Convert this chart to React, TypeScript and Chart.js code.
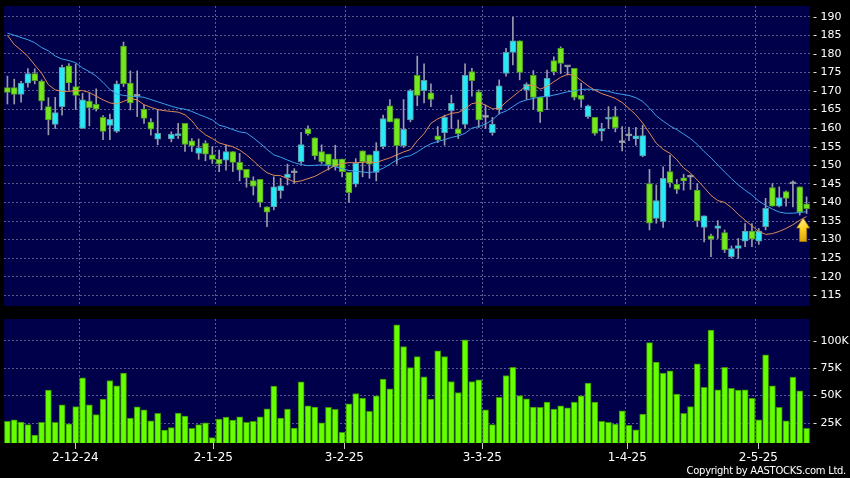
import React, { useEffect, useRef } from 'react';
import { Chart, registerables } from 'chart.js';
Chart.register(...registerables);

// ---------- data ----------
const OPEN = [170.9,170.9,169.1,172.1,174.7,172.7,165.8,161.0,165.8,176.8,
171.2,159.9,167.3,166.4,162.9,160.7,159.1,182.1,172.1,168.6,
165.1,161.6,157.0,null,157.1,158.0,161.3,156.6,153.2,155.9,
152.8,151.6,151.4,153.7,150.8,148.9,145.9,146.2,138.8,138.8,
143.2,146.7,148.0,151.0,159.8,157.4,153.7,153.0,151.7,151.7,
148.1,144.9,153.9,152.8,148.1,155.0,166.0,162.6,155.3,162.2,
174.2,170.1,169.5,157.9,158.8,164.7,159.8,161.0,175.2,169.8,
162.9,158.8,165.0,174.7,180.4,183.5,170.3,174.2,168.3,168.5,
178.2,181.5,176.5,176.1,168.8,163.1,162.9,159.2,162.4,163.1,
156.1,157.9,157.1,152.5,145.1,135.7,134.8,148.3,144.9,146.6,
146.8,143.3,133.3,131.0,133.0,131.9,125.4,127.6,129.6,132.3,
129.6,133.5,144.0,139.0,142.9,145.0,144.2,139.6];

const HIGH = [174.0,173.2,172.6,176.0,176.0,173.0,168.2,168.3,177.0,177.4,
177.3,169.4,169.4,170.6,163.4,163.8,172.7,183.2,175.4,175.4,
166.2,162.6,164.9,null,159.0,161.3,161.3,157.2,157.1,156.6,
155.0,154.1,155.4,153.7,153.2,148.9,146.9,146.2,138.8,146.9,
146.5,150.3,149.1,158.9,160.6,157.4,155.5,153.0,155.4,151.7,
148.1,151.8,153.9,152.8,156.1,163.5,167.7,162.6,167.7,170.4,
179.4,177.3,171.9,160.4,163.5,168.9,162.2,177.3,176.1,170.3,
166.2,162.9,173.0,181.5,189.8,183.5,172.2,175.5,168.3,175.6,
179.2,181.9,176.7,176.1,172.1,166.2,162.9,161.3,165.8,165.8,
160.4,160.2,160.2,160.8,148.9,144.7,149.6,152.7,146.2,147.6,
147.4,145.1,136.4,131.5,135.1,132.6,128.3,130.3,134.3,134.3,
133.0,141.1,145.1,144.2,143.1,145.8,144.2,141.5];

const LOW = [166.5,166.5,167.0,171.0,171.9,164.9,158.2,159.9,163.5,170.3,
165.0,159.9,160.6,164.6,156.9,156.9,158.8,171.2,164.9,163.1,
161.3,158.1,155.5,null,156.3,157.2,153.7,153.7,151.6,151.2,
150.5,148.3,148.7,148.3,145.8,144.1,142.0,138.8,133.5,138.0,
141.1,144.7,145.1,150.5,158.1,151.6,150.5,148.7,148.7,146.9,
140.0,144.2,146.9,146.5,145.8,154.5,161.7,150.3,154.8,161.7,
166.0,166.8,165.8,156.1,155.4,159.9,157.2,159.9,168.6,160.2,
159.9,158.1,163.8,174.0,177.0,173.0,167.7,165.0,161.5,165.0,
174.3,174.7,174.3,167.6,165.6,162.6,158.1,156.6,159.9,159.0,
153.9,156.6,155.4,152.3,132.6,134.4,133.3,144.1,142.4,143.3,
143.5,133.5,129.4,125.4,130.3,126.5,125.0,124.9,128.1,128.1,
128.7,132.6,139.0,138.8,139.0,138.8,136.6,137.0];

const CLOSE = [169.6,169.1,172.1,174.7,172.8,167.3,162.2,164.2,176.4,172.2,
168.8,167.6,165.5,165.1,159.1,162.4,171.9,171.9,166.8,168.6,
162.6,159.7,158.6,null,158.3,158.5,155.6,155.2,154.7,153.0,
151.6,150.4,153.7,150.8,148.7,146.7,144.4,140.0,137.4,144.2,
144.5,147.6,148.0,155.6,158.5,152.5,151.0,150.1,149.6,148.3,
142.6,150.5,151.0,150.3,153.9,162.6,161.7,155.3,159.7,170.1,
168.8,172.9,167.7,156.8,162.9,166.7,158.5,174.2,172.8,162.2,
162.9,161.1,171.4,180.4,183.5,175.0,171.8,168.3,164.4,173.4,
175.2,177.4,176.5,168.3,167.7,166.0,158.6,159.9,162.9,160.1,
156.1,157.9,157.9,158.0,134.4,140.5,146.5,145.3,143.5,145.8,
146.8,135.0,136.4,130.1,133.7,127.2,127.6,128.4,132.3,130.2,
132.3,138.4,139.0,141.3,141.1,145.0,137.4,138.3];

const MA_SHORT = [185.0,182.5,181.0,179.3,177.0,174.8,171.7,170.3,169.9,169.9,
170.1,170.1,169.6,168.6,167.6,166.8,166.5,167.2,168.0,167.6,
166.3,165.6,165.0,164.7,164.5,164.3,163.6,162.0,159.7,158.2,
157.2,156.0,155.5,155.0,154.1,152.8,151.2,149.5,148.0,147.3,
147.2,146.4,145.5,145.8,146.4,147.0,148.0,149.0,149.9,150.5,
150.7,150.7,150.8,150.9,150.7,151.4,152.0,152.8,153.6,154.2,
156.6,158.5,161.3,162.5,163.3,164.0,164.2,165.2,166.6,166.9,
166.2,165.2,165.3,167.0,168.5,170.0,171.4,171.6,170.5,171.2,
172.5,173.7,174.5,174.2,172.8,171.4,170.2,169.3,168.7,168.0,
166.9,165.3,163.6,161.4,158.7,155.9,154.3,153.2,151.5,149.3,
147.9,146.0,144.0,141.9,140.5,140.0,138.6,136.8,135.2,133.7,
132.2,131.4,131.6,132.2,133.0,134.0,135.2,136.2];

const MA_LONG = [185.6,185.0,184.4,183.8,183.0,181.7,180.8,179.4,178.6,178.2,
177.6,176.2,175.2,174.0,172.3,170.4,169.2,168.8,168.6,168.5,
168.3,167.7,167.1,166.5,165.9,165.4,165.1,164.5,163.7,163.0,
162.2,160.8,160.3,159.6,159.0,158.7,157.4,155.9,154.3,152.8,
152.2,151.4,150.7,150.2,149.9,150.0,150.1,150.0,149.6,149.1,
148.6,148.4,148.2,148.0,148.4,149.2,150.3,151.4,152.2,152.6,
153.6,154.8,155.8,156.4,156.9,157.5,157.9,158.6,160.0,160.4,
161.1,162.2,163.9,164.6,165.8,167.0,167.6,168.0,168.4,168.5,
168.9,169.3,169.8,170.0,170.4,170.5,170.4,170.2,169.9,169.4,
169.1,168.8,168.2,167.2,165.4,163.3,161.9,160.6,159.6,158.4,
157.2,155.6,153.7,152.0,150.1,148.2,146.4,144.7,143.3,142.0,
140.4,139.2,138.2,137.4,137.1,137.1,137.3,137.5];

// volume in thousands of shares
const VOLUME_K = [26.5,28.0,25.9,23.5,14.1,25.6,55.0,25.6,41.6,24.4,
40.1,66.2,41.6,32.6,46.8,63.7,58.9,70.4,29.5,39.8,
37.1,27.1,33.8,18.6,20.8,34.1,31.3,20.1,23.5,25.3,
11.7,28.6,30.4,27.7,30.7,25.6,26.5,30.7,38.0,58.6,
29.5,37.7,20.5,62.5,40.7,39.5,25.3,39.2,37.4,16.5,
42.6,51.9,47.7,35.6,49.8,65.0,56.2,114.3,94.6,75.5,
85.5,67.0,46.8,90.7,85.5,62.8,52.8,100.7,62.8,64.3,
37.1,23.5,48.3,68.3,75.8,50.1,47.1,39.5,39.2,44.1,
37.7,40.7,38.9,44.1,49.8,61.3,44.1,26.5,25.6,24.1,
36.2,22.9,18.9,33.2,98.2,80.4,70.4,72.5,51.3,33.8,
40.1,78.9,57.4,109.7,55.3,75.8,56.5,55.0,55.3,47.4,
28.0,87.0,58.9,39.2,27.1,66.8,54.4,20.2];

const DATE_LABELS = ['2-12-24', '2-1-25', '3-2-25', '3-3-25', '1-4-25', '2-5-25'];
const DATE_INDEX = [10, 30, 49, 69, 90, 109];
const VOLUME_TICKS = [25000, 50000, 75000, 100000];
const ARROW_AT = { index: 116.5, value: 135.8 };

// ---------- styles ----------
const NAVY = '#00004a';
const GRID = 'rgba(120,120,170,0.75)';
const GREEN = '#74e81c';
const GREEN_EDGE = '#4f9a22';
const CYAN = '#28e9f7';
const CYAN_EDGE = '#5f95a0';
const DOJI = '#b9c2c8';
const DOJI_EDGE = '#8a8f96';
const WICK = '#9a9aaa';
const ORANGE = '#e08a55';
const BLUE = '#3aa2ea';
const VOL = '#66ff00';
const VOL_EDGE = '#3a9000';
const FONT = 'DejaVu Sans';

const CAT_LABELS = OPEN.map((_, i) => String(i));

const bgPlugin = {
  id: 'panelBg',
  beforeDraw(chart: any) {
    const { ctx, chartArea: a } = chart;
    ctx.save();
    ctx.fillStyle = NAVY;
    ctx.fillRect(a.left, a.top, a.right - a.left, a.bottom - a.top);
    ctx.restore();
  },
};

const arrowPlugin = {
  id: 'upArrow',
  afterDatasetsDraw(chart: any) {
    const x = chart.scales.x.getPixelForValue(ARROW_AT.index);
    const y = chart.scales.y.getPixelForValue(ARROW_AT.value);
    const ctx = chart.ctx;
    ctx.save();
    const g = ctx.createLinearGradient(x - 6, y, x + 6, y + 24);
    g.addColorStop(0, '#fff4a8');
    g.addColorStop(0.45, '#ffd324');
    g.addColorStop(1, '#d89800');
    ctx.beginPath();
    ctx.moveTo(x, y);
    ctx.lineTo(x + 6.5, y + 10);
    ctx.lineTo(x + 3.5, y + 10);
    ctx.lineTo(x + 3.5, y + 23.5);
    ctx.lineTo(x - 3.5, y + 23.5);
    ctx.lineTo(x - 3.5, y + 10);
    ctx.lineTo(x - 6.5, y + 10);
    ctx.closePath();
    ctx.fillStyle = g;
    ctx.fill();
    ctx.strokeStyle = '#a87800';
    ctx.lineWidth = 0.8;
    ctx.stroke();
    ctx.restore();
  },
};

const dateGridX = () => ({
  type: 'category' as const,
  offset: true,
  grid: {
    offset: true,
    drawTicks: false,
    lineWidth: 1,
    color: (c: any) => (typeof c.index === 'number' && DATE_INDEX.includes(c.index - 1) ? GRID : 'rgba(0,0,0,0)'),
  },
  border: { display: false, dash: [2, 2] },
  ticks: { display: false, autoSkip: false },
  afterFit: (s: any) => { s.height = 0; s.paddingLeft = 0; s.paddingRight = 0; },
});

export default function App() {
  const topRef = useRef<HTMLCanvasElement>(null);
  const botRef = useRef<HTMLCanvasElement>(null);

  useEffect(() => {
    const bodies = OPEN.map((o, i) => (o == null ? null : [o, CLOSE[i] as number]));
    const wicks = LOW.map((l, i) => (l == null ? null : [l, HIGH[i] as number]));
    const bodyFill = OPEN.map((o, i) => {
      const c = CLOSE[i];
      if (o == null || c == null) return DOJI;
      return c > o ? CYAN : c < o ? GREEN : DOJI;
    });
    const bodyEdge = OPEN.map((o, i) => {
      const c = CLOSE[i];
      if (o == null || c == null) return DOJI_EDGE;
      return c > o ? CYAN_EDGE : c < o ? GREEN_EDGE : DOJI_EDGE;
    });

    const top = new Chart(topRef.current as HTMLCanvasElement, {
      type: 'bar',
      data: {
        labels: CAT_LABELS,
        datasets: [
          { type: 'line', label: 'MA short', data: MA_SHORT, borderColor: ORANGE, borderWidth: 1, pointRadius: 0, tension: 0, order: 0 } as any,
          { type: 'line', label: 'MA long', data: MA_LONG, borderColor: BLUE, borderWidth: 1, pointRadius: 0, tension: 0, order: 0 } as any,
          {
            type: 'bar', label: 'body', data: bodies as any, backgroundColor: bodyFill, borderColor: bodyEdge,
            borderWidth: 1, borderSkipped: false, barThickness: 6, grouped: false, minBarLength: 2, order: 1,
          } as any,
          {
            type: 'bar', label: 'wick', data: wicks as any, backgroundColor: WICK, borderWidth: 0,
            barThickness: 1, grouped: false, order: 2,
          } as any,
        ],
      },
      options: {
        responsive: false,
        animation: false,
        events: [],
        layout: { padding: { left: 4, top: 6, right: 0, bottom: 6 } },
        plugins: { legend: { display: false }, tooltip: { enabled: false } },
        scales: {
          x: dateGridX() as any,
          y: {
            type: 'linear',
            position: 'right',
            min: 112.12,
            max: 192.88,
            ticks: {
              stepSize: 5,
              includeBounds: false,
              color: '#ffffff',
              padding: 3,
              font: { family: FONT, size: 11 },
              callback: (v: any) => '- ' + v,
            },
            grid: { color: GRID, drawTicks: false, lineWidth: 1 },
            border: { display: false, dash: [2, 2] },
            afterFit: (s: any) => { s.width = 40; s.paddingTop = 0; s.paddingBottom = 0; },
          } as any,
        },
      },
      plugins: [bgPlugin, arrowPlugin],
    });

    const bot = new Chart(botRef.current as HTMLCanvasElement, {
      type: 'bar',
      data: {
        labels: CAT_LABELS,
        datasets: [
          {
            label: 'Volume', data: VOLUME_K.map((v) => v * 1000), backgroundColor: VOL, borderColor: VOL_EDGE,
            borderWidth: 1, borderSkipped: false, barThickness: 6, clip: 0,
          } as any,
        ],
      },
      options: {
        responsive: false,
        animation: false,
        events: [],
        layout: { padding: { left: 4, top: 7, right: 0, bottom: 0 } },
        plugins: { legend: { display: false }, tooltip: { enabled: false } },
        scales: {
          x: dateGridX() as any,
          xl: {
            type: 'linear',
            position: 'bottom',
            offset: false,
            min: -0.333,
            max: 116.48,
            afterBuildTicks: (s: any) => { s.ticks = DATE_INDEX.map((v) => ({ value: v })); },
            ticks: {
              autoSkip: false,
              maxRotation: 0,
              color: '#ffffff',
              padding: 2,
              font: { family: FONT, size: 12 },
              callback: (_v: any, i: number) => DATE_LABELS[i],
            },
            grid: { offset: false, drawOnChartArea: false, drawTicks: true, tickLength: 6, color: '#c8c8c8' },
            border: { display: false },
            afterFit: (s: any) => { s.height = 35; s.paddingLeft = 0; s.paddingRight = 0; },
          } as any,
          y: {
            type: 'linear',
            position: 'right',
            min: 6840,
            max: 119700,
            afterBuildTicks: (s: any) => { s.ticks = VOLUME_TICKS.map((v) => ({ value: v })); },
            ticks: {
              color: '#ffffff',
              padding: 3,
              font: { family: FONT, size: 11 },
              callback: (v: any) => '- ' + Math.round(v / 1000) + 'K',
            },
            grid: { color: GRID, drawTicks: false, lineWidth: 1 },
            border: { display: false, dash: [2, 2] },
            afterFit: (s: any) => { s.width = 40; s.paddingTop = 0; s.paddingBottom = 0; },
          } as any,
        },
      },
      plugins: [bgPlugin],
    });

    return () => { top.destroy(); bot.destroy(); };
  }, []);

  return (
    <div style={{ position: 'fixed', left: 0, top: 0, width: 850, height: 478, background: '#000', overflow: 'hidden' }}>
      <canvas ref={topRef} width={850} height={312} style={{ position: 'absolute', left: 0, top: 0, display: 'block' }} />
      <canvas ref={botRef} width={850} height={166} style={{ position: 'absolute', left: 0, top: 312, display: 'block' }} />
      <div
        style={{
          position: 'absolute', right: 4, top: 465, font: `10px "${FONT}"`, lineHeight: '12px',
          color: '#ffffff', letterSpacing: '-0.3px', whiteSpace: 'nowrap',
        }}
      >
        Copyright by AASTOCKS.com Ltd.
      </div>
    </div>
  );
}
